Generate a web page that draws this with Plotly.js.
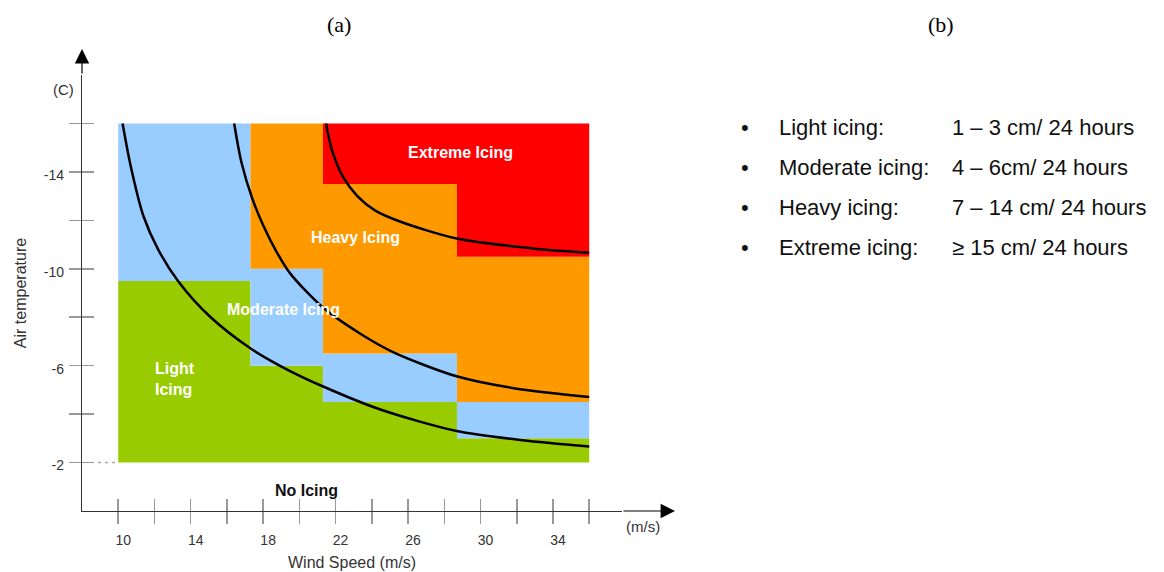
<!DOCTYPE html>
<html><head><meta charset="utf-8">
<script src="https://cdn.plot.ly/plotly-3.0.1.min.js"></script>
<style>html,body{margin:0;padding:0;background:#fff;}#chart{width:1164px;height:572px;}</style>
</head><body><div id="chart"></div>
<script>
// ---------- data ----------
const windTicks = [10, 12, 14, 16, 18, 20, 22, 24, 26, 28, 30, 32, 34, 36];
const windTickLabels = ['10', '', '14', '', '18', '', '22', '', '26', '', '30', '', '34', ''];
const tempTicks = [-16, -14, -12, -10, -8, -6, -4, -2];
const tempTickLabels = ['', '-14', '', '-10', '', '-6', '', '-2'];

const zoneColors = ['#99CC00', '#99CCFF', '#FF9900', '#FF0000'];
const columnEdges = [10, 17.3, 21.3, 28.7, 36];
const tempBase = -2;
const lightTop = [-9.5, -6, -4.5, -3];
const moderateTop = [-16, -10, -6.5, -4.5];
const heavyTop = [null, -16, -13.5, -10.5];
const extremeTop = [null, null, -16, -16];

const curveLightWind = [10.24, 10.7, 11.38, 12.2, 13.31, 15.06, 17.27, 19.3, 21.28, 24.47, 28.68, 32.3, 36];
const curveLightTemp = [-16, -14.2, -12.2, -10.8, -9.49, -8.03, -6.73, -5.85, -5.15, -4.19, -3.3, -2.92, -2.66];
const curveModWind = [16.4, 16.8, 17.4, 18.0, 18.74, 19.5, 21.3, 23.3, 25.2, 28.68, 32, 36];
const curveModTemp = [-16, -14.4, -12.9, -11.8, -10.7, -9.8, -8.4, -7.35, -6.55, -5.56, -5.05, -4.71];
const curveHeavyWind = [21.47, 21.8, 22.42, 23.2, 24.17, 25.55, 28.68, 32.9, 36];
const curveHeavyTemp = [-16, -14.9, -13.78, -13.0, -12.41, -11.95, -11.25, -10.84, -10.66];

const zoneLabelTexts = ['Extreme Icing', 'Heavy Icing', 'Moderate Icing', 'Light<br>Icing'];
const zoneLabelWind = [28.92, 23.12, 19.11, 11.93];
const zoneLabelTemp = [-14.81, -11.31, -8.33, -5.46];
const noIcingText = 'No Icing';
const noIcingWind = 20.38;
const noIcingTemp = -0.86;

const rateNames = ['Light icing:', 'Moderate icing:', 'Heavy icing:', 'Extreme icing:'];
const rateValues = ['1 – 3 cm/ 24 hours', '4 – 6cm/ 24 hours', '7 – 14 cm/ 24 hours', '≥ 15 cm/ 24 hours'];

// ---------- layout helpers ----------
const W = 1164, H = 572;
const L = 82, R = 622, T = 75, B = 511.5;
const pxX = p => (p - L) / (R - L);
const pxY = p => (B - p) / (B - T);
const xPerUnit = 18.115, yPerUnit = 24.25;
const sans = 'Liberation Sans, Arial, sans-serif';
const serif = 'Liberation Serif, Times New Roman, serif';

// zones as stepped polygons (one path per zone, no seams inside a zone)
const shapes = [];
const allBounds = [[], [], [], [], []];
for (let i = 0; i < columnEdges.length - 1; i++) {
  [tempBase, lightTop[i], moderateTop[i], heavyTop[i], extremeTop[i]].forEach((v, k) => allBounds[k].push(v));
}
for (let z = 0; z < 4; z++) {
  const lo = allBounds[z], hi = allBounds[z + 1];
  const cols = [];
  for (let i = 0; i < lo.length; i++) if (lo[i] != null && hi[i] != null) cols.push(i);
  if (!cols.length) continue;
  const pts = [];
  cols.forEach(i => { pts.push([columnEdges[i], lo[i]]); pts.push([columnEdges[i + 1], lo[i]]); });
  cols.slice().reverse().forEach(i => { pts.push([columnEdges[i + 1], hi[i]]); pts.push([columnEdges[i], hi[i]]); });
  const path = 'M' + pts.map(p => p[0] + ',' + p[1]).join('L') + 'Z';
  shapes.push({type: 'path', xref: 'x', yref: 'y', path: path, fillcolor: zoneColors[z],
    line: {width: 0}, layer: 'below'});
}
shapes.push({type: 'line', xref: 'x', yref: 'y', x0: 8 + 16 / xPerUnit, x1: columnEdges[0],
  y0: tempBase, y1: tempBase, line: {color: '#aaaaaa', width: 1.5, dash: '3px,4px'}, layer: 'below'});

const curveStyle = {color: '#000', width: 2.5, shape: 'spline', smoothing: 0.8};
const traces = [
  {x: curveLightWind, y: curveLightTemp, mode: 'lines', line: curveStyle, hoverinfo: 'skip', showlegend: false},
  {x: curveModWind, y: curveModTemp, mode: 'lines', line: curveStyle, hoverinfo: 'skip', showlegend: false},
  {x: curveHeavyWind, y: curveHeavyTemp, mode: 'lines', line: curveStyle, hoverinfo: 'skip', showlegend: false},
  {x: [], y: [], xaxis: 'x2', yaxis: 'y2', mode: 'lines', hoverinfo: 'skip', showlegend: false}
];

const annotations = [];
zoneLabelTexts.forEach((t, i) => {
  annotations.push({xref: 'x', yref: 'y', x: zoneLabelWind[i], y: zoneLabelTemp[i], text: '<b>' + t + '</b>',
    showarrow: false, xanchor: i === 3 ? 'left' : 'center', yanchor: 'middle', align: 'left',
    font: {family: sans, size: 16, color: '#ffffff'}});
});
annotations.push({xref: 'x', yref: 'y', x: noIcingWind, y: noIcingTemp, text: '<b>' + noIcingText + '</b>',
  showarrow: false, xanchor: 'center', yanchor: 'middle', font: {family: sans, size: 16, color: '#111'}});
// axis arrows
annotations.push({xref: 'paper', yref: 'paper', x: pxX(675), y: 0, ax: -53, ay: 0, axref: 'pixel', ayref: 'pixel',
  text: '', showarrow: true, arrowhead: 2, arrowsize: 2.4, arrowwidth: 1.2, arrowcolor: '#000'});
annotations.push({xref: 'paper', yref: 'paper', x: 0, y: pxY(49), ax: 0, ay: 26, axref: 'pixel', ayref: 'pixel',
  text: '', showarrow: true, arrowhead: 2, arrowsize: 2.4, arrowwidth: 1.2, arrowcolor: '#000'});
const mid = {xanchor: 'center', yanchor: 'middle', showarrow: false, xref: 'paper', yref: 'paper'};
// unit labels
annotations.push(Object.assign({x: pxX(643), y: pxY(527), text: '(m/s)', font: {family: sans, size: 15, color: '#333'}}, mid));
annotations.push(Object.assign({x: pxX(63), y: pxY(90), text: '(C)', font: {family: sans, size: 15, color: '#333'}}, mid));
// panel captions
annotations.push(Object.assign({x: pxX(339), y: pxY(24), text: '(a)', font: {family: serif, size: 22, color: '#000'}}, mid));
annotations.push(Object.assign({x: pxX(941), y: pxY(24), text: '(b)', font: {family: serif, size: 22, color: '#000'}}, mid));
// bullet list
rateNames.forEach((n, i) => {
  const yy = pxY(128 + i * 40);
  annotations.push(Object.assign({x: pxX(745), y: yy, text: '•', font: {family: sans, size: 22, color: '#111'}}, mid));
  annotations.push(Object.assign({}, mid, {x: pxX(777), y: yy, xanchor: 'left', text: n,
    font: {family: sans, size: 22, color: '#111'}}));
  annotations.push(Object.assign({}, mid, {x: pxX(950), y: yy, xanchor: 'left', text: rateValues[i],
    font: {family: sans, size: 22, color: '#111'}}));
});

const xRange = [8, 8 + (R - L) / xPerUnit];
const yRange = [0, -(B - T) / yPerUnit];
const tickFont = {family: sans, size: 14, color: '#333'};

const layout = {
  width: W, height: H,
  margin: {l: L, r: W - R, t: T, b: H - B, pad: 0},
  paper_bgcolor: '#fff', plot_bgcolor: 'rgba(0,0,0,0)',
  showlegend: false,
  xaxis: {range: xRange, tickmode: 'array', tickvals: windTicks, ticktext: windTickLabels,
    ticks: 'outside', ticklen: 12, tickwidth: 1.5, tickcolor: '#999',
    showline: true, linecolor: '#333', linewidth: 1.2, showgrid: false, zeroline: false,
    tickfont: tickFont, ticklabelshift: 5, ticklabelstandoff: 4, automargin: false,
    title: {text: 'Wind Speed (m/s)', font: {family: sans, size: 16, color: '#333'}, standoff: 9}},
  yaxis: {range: yRange, tickmode: 'array', tickvals: tempTicks, ticktext: tempTickLabels,
    ticks: 'outside', ticklen: 12, tickwidth: 1.5, tickcolor: '#999',
    showline: true, linecolor: '#333', linewidth: 1.2, showgrid: false, zeroline: false,
    tickfont: tickFont, ticklabelstandoff: 2, ticklabelshift: -3, automargin: false,
    title: {text: 'Air temperature', font: {family: sans, size: 16, color: '#333'}, standoff: 13}},
  xaxis2: {overlaying: 'x', anchor: 'y2', side: 'bottom', range: xRange, tickmode: 'array', tickvals: windTicks,
    ticks: 'inside', ticklen: 12, tickwidth: 1.5, tickcolor: '#999', showticklabels: false,
    showline: false, showgrid: false, zeroline: false},
  yaxis2: {overlaying: 'y', anchor: 'x2', side: 'left', range: yRange, tickmode: 'array', tickvals: tempTicks,
    ticks: 'inside', ticklen: 12, tickwidth: 1.5, tickcolor: '#999', showticklabels: false,
    showline: false, showgrid: false, zeroline: false},
  shapes: shapes,
  annotations: annotations
};

Plotly.newPlot('chart', traces, layout, {staticPlot: true, displayModeBar: false});
</script>
</body></html>
